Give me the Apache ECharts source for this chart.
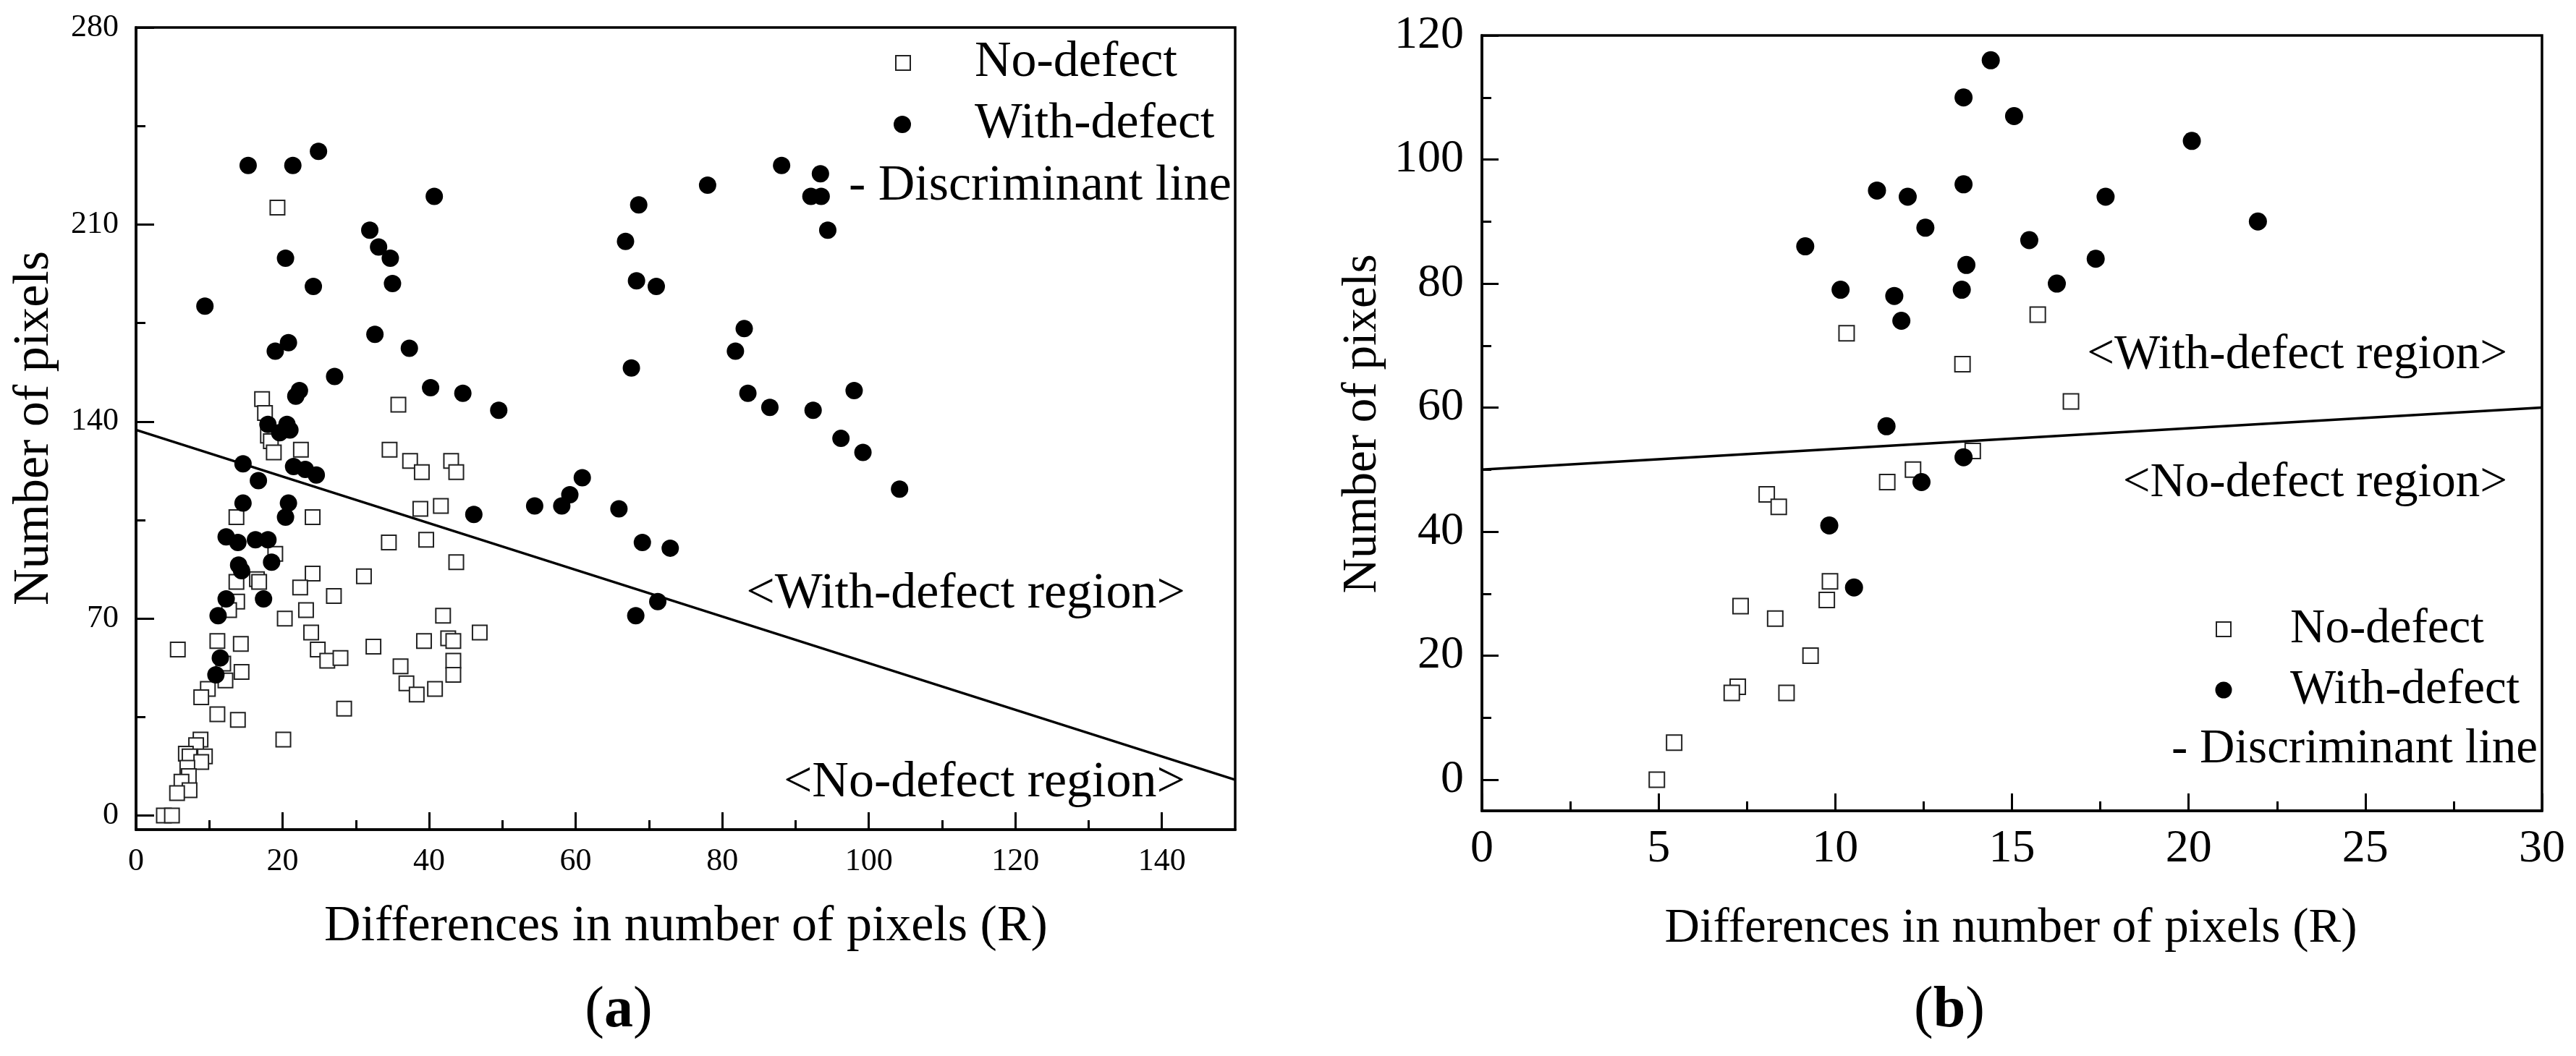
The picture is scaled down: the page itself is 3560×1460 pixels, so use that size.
<!DOCTYPE html>
<html>
<head>
<meta charset="utf-8">
<script src="https://cdn.jsdelivr.net/npm/echarts@6/dist/echarts.min.js"></script>
<style>html,body{margin:0;padding:0;background:#fff;font-family:"Liberation Serif",serif}#c{width:3560px;height:1460px}</style>
</head>
<body>
<div id="c"></div>
<script>
// ---------- Panel (a) data ----------
const noDefectA = [[19.3,216],[17.2,148],[17.6,143],[18.0,135],[18.4,133],[18.8,129],[22.5,130],[35.8,146],[34.6,130],[37.4,126],[39.0,122],[43.0,126],[43.7,122],[38.8,109],[41.6,110],[13.7,106],[24.1,106],[34.5,97],[39.6,98],[43.7,90],[19.0,93],[24.1,86],[22.4,81],[31.1,85],[13.7,83],[16.5,84],[16.8,83],[27.0,78],[13.8,76],[12.7,73],[23.2,73],[20.3,70],[41.9,71],[5.7,59],[11.1,62],[14.3,61],[23.9,65],[46.9,65],[32.4,60],[39.3,62],[42.6,63],[43.3,62],[24.8,59],[26.1,55],[27.9,56],[36.1,53],[43.3,55],[43.3,50],[36.9,47],[38.3,43],[40.8,45],[12.2,48],[14.4,51],[11.9,54],[9.8,45],[8.9,42],[11.1,36],[13.9,34],[28.4,38],[20.1,27],[8.8,27],[8.2,25],[6.8,22],[7.3,21],[9.4,21],[8.9,19],[7.0,17],[7.2,14],[6.2,12],[7.3,9],[5.6,8],[3.8,0],[4.9,0]];
const withDefectA = [[31.9,208],[33.1,202],[34.7,198],[20.4,198],[24.2,188],[35.0,189],[9.4,181],[32.6,171],[20.8,168],[19.0,165],[37.3,166],[27.1,156],[40.2,152],[44.6,150],[22.3,151],[21.8,149],[49.5,144],[18.0,139],[20.6,139],[19.6,136],[21.0,137],[14.6,125],[16.7,119],[21.5,124],[23.1,123],[24.6,121],[14.6,111],[20.8,111],[20.4,106],[46.1,107],[12.3,99],[13.9,97],[16.3,98],[18.0,98],[14.0,89],[14.4,87],[18.5,90],[12.3,77],[17.4,77],[11.2,71],[11.5,56],[10.9,50],[15.3,231],[21.4,231],[24.9,236],[40.7,220],[68.6,217],[66.8,204],[68.3,190],[67.6,159],[88.1,231],[93.4,228],[92.1,220],[93.5,220],[78.0,224],[94.4,208],[71.0,188],[83.0,173],[81.8,165],[83.5,150],[86.5,145],[92.4,144],[98.0,151],[96.2,134],[99.2,129],[104.2,116],[72.9,95],[71.2,76],[54.4,110],[58.1,110],[59.2,114],[60.9,120],[65.9,109],[69.1,97],[68.2,71]];
const lineA = [[0,137],[150,12.7]];
const xTicksA = [0,20,40,60,80,100,120,140];
const xMinorA = [10,30,50,70,90,110,130];
const yTicksA = [0,70,140,210,280];
const yMinorA = [35,105,175,245];

// ---------- Panel (b) data ----------
const noDefectB = [[10.32,72],[15.73,75],[13.6,67],[16.67,61],[13.89,53],[12.2,50],[11.47,48],[8.06,46],[8.4,44],[9.85,32],[9.76,29],[7.32,28],[8.3,26],[9.3,20],[7.24,15],[7.07,14],[8.62,14],[5.44,6],[4.95,0]];
const withDefectB = [[14.4,116],[13.63,110],[15.06,107],[20.09,103],[11.18,95],[12.05,94],[13.63,96],[17.65,94],[21.96,90],[12.55,89],[15.49,87],[9.15,86],[13.71,83],[17.37,84],[16.27,80],[10.15,79],[11.67,78],[13.58,79],[11.87,74],[11.45,57],[13.63,52],[12.44,48],[9.83,41],[10.53,31]];
const lineB = [[0,50],[30,60]];
const xTicksB = [0,5,10,15,20,25,30];
const xMinorB = [2.5,7.5,12.5,17.5,22.5,27.5];
const yTicksB = [0,20,40,60,80,100,120];
const yMinorB = [10,30,50,70,90,110];

// ---------- Texts ----------
const labelsA = {title:'Differences in number of pixels (R)', ytitle:'Number of pixels', tag:'a',
  legend:['No-defect','With-defect','- Discriminant line'], regions:['<With-defect region>','<No-defect region>']};
const labelsB = {title:'Differences in number of pixels (R)', ytitle:'Number of pixels', tag:'b',
  legend:['No-defect','With-defect','- Discriminant line'], regions:['<With-defect region>','<No-defect region>']};

const FONT = 'Liberation Serif';

function lbl(fs, margin){
  return {show:true, margin:margin, color:'#000', fontFamily:FONT, fontSize:fs,
    textStyle:{fontFamily:FONT, fontSize:fs, color:'#000'}};
}
function majorX(grid, min, max, ticks, fs, margin){
  const l = lbl(fs, margin); l.customValues = ticks;
  return {type:'value', gridIndex:grid, min:min, max:max, position:'bottom',
    axisLine:{show:true, onZero:false, lineStyle:{color:'#000', width:3.5}},
    axisTick:{show:true, inside:true, length:24, customValues:ticks, lineStyle:{color:'#000', width:3}},
    axisLabel:l, splitLine:{show:false}};
}
function minorX(grid, min, max, ticks){
  return {type:'value', gridIndex:grid, min:min, max:max, position:'bottom',
    axisLine:{show:false, onZero:false},
    axisTick:{show:true, inside:true, length:13, customValues:ticks, lineStyle:{color:'#000', width:3}},
    axisLabel:{show:false}, splitLine:{show:false}};
}
function majorY(grid, min, max, ticks, fs, margin, len){
  const l = lbl(fs, margin); l.customValues = ticks;
  return {type:'value', gridIndex:grid, min:min, max:max, position:'left',
    axisLine:{show:true, onZero:false, lineStyle:{color:'#000', width:3.5}},
    axisTick:{show:true, inside:true, length:len, customValues:ticks, lineStyle:{color:'#000', width:3}},
    axisLabel:l, splitLine:{show:false}};
}
function minorY(grid, min, max, ticks){
  return {type:'value', gridIndex:grid, min:min, max:max, position:'left',
    axisLine:{show:false, onZero:false},
    axisTick:{show:true, inside:true, length:13, customValues:ticks, lineStyle:{color:'#000', width:3}},
    axisLabel:{show:false}, splitLine:{show:false}};
}

function txt(x, y, s, fs, align, extra){
  const o = {type:'text', x:x, y:y, silent:true, z:10,
    style:{text:s, x:0, y:0, fill:'#000', font: fs+'px "'+FONT+'"',
      textAlign:align, textVerticalAlign:'middle', align:align, verticalAlign:'middle'}};
  if (extra) Object.assign(o, extra);
  return o;
}
function sq(cx, cy, s){
  return {type:'rect', silent:true, z:10, shape:{x:cx-s/2, y:cy-s/2, width:s, height:s},
    style:{fill:'#fff', stroke:'#222', lineWidth:2}};
}
function dot(cx, cy, r){
  return {type:'circle', silent:true, z:10, shape:{cx:cx, cy:cy, r:r}, style:{fill:'#000'}};
}
function tag(x, y, letter, fs){
  return {type:'text', x:x, y:y, silent:true, z:10,
    style:{text:'({b|'+letter+'})', x:0, y:0, fill:'#000', font: fs+'px "'+FONT+'"',
      textAlign:'center', textVerticalAlign:'middle', align:'center', verticalAlign:'middle',
      rich:{b:{fontWeight:'bold', fontSize:fs, fontFamily:FONT, fill:'#000'}}}};
}

const chart = echarts.init(document.getElementById('c'), null, {renderer:'canvas'});
chart.setOption({
  backgroundColor:'#fff',
  animation:false,
  textStyle:{fontFamily:FONT, color:'#000'},
  grid:[
    {left:188, top:38, width:1519, height:1109, show:true, borderColor:'#000', borderWidth:3.5, backgroundColor:'transparent', containLabel:false, outerBoundsMode:'none'},
    {left:2048, top:49, width:1465, height:1072, show:true, borderColor:'#000', borderWidth:3.5, backgroundColor:'transparent', containLabel:false, outerBoundsMode:'none'}
  ],
  xAxis:[
    majorX(0, 0, 150, xTicksA, 44, 22),
    minorX(0, 0, 150, xMinorA),
    majorX(1, 0, 30, xTicksB, 64, 21),
    minorX(1, 0, 30, xMinorB)
  ],
  yAxis:[
    majorY(0, -5, 280, yTicksA, 44, 24, 25),
    minorY(0, -5, 280, yMinorA),
    majorY(1, -5, 120, yTicksB, 64, 25, 23),
    minorY(1, -5, 120, yMinorB)
  ],
  series:[
    {name:'No-defect', type:'scatter', xAxisIndex:0, yAxisIndex:0, data:noDefectA, symbol:'rect', symbolSize:20,
      itemStyle:{color:'#fff', borderColor:'#222', borderWidth:2, opacity:1}, z:2},
    {name:'With-defect', type:'scatter', xAxisIndex:0, yAxisIndex:0, data:withDefectA, symbol:'circle', symbolSize:24,
      itemStyle:{color:'#000', opacity:1}, z:3},
    {name:'Discriminant line', type:'line', xAxisIndex:0, yAxisIndex:0, data:lineA, showSymbol:false, symbol:'none',
      lineStyle:{color:'#000', width:3.5}, z:4},
    {name:'No-defect', type:'scatter', xAxisIndex:2, yAxisIndex:2, data:noDefectB, symbol:'rect', symbolSize:21,
      itemStyle:{color:'#fff', borderColor:'#222', borderWidth:2, opacity:1}, z:2},
    {name:'With-defect', type:'scatter', xAxisIndex:2, yAxisIndex:2, data:withDefectB, symbol:'circle', symbolSize:25,
      itemStyle:{color:'#000', opacity:1}, z:3},
    {name:'Discriminant line', type:'line', xAxisIndex:2, yAxisIndex:2, data:lineB, showSymbol:false, symbol:'none',
      lineStyle:{color:'#000', width:3.5}, z:4}
  ],
  graphic:{elements:[
    // panel a
    txt(48, 592, labelsA.ytitle, 70, 'center', {rotation:Math.PI/2}),
    txt(948, 1282, labelsA.title, 70, 'center'),
    tag(855, 1398, labelsA.tag, 80),
    sq(1248, 87, 20),
    dot(1247, 172, 12),
    txt(1347, 87, labelsA.legend[0], 70, 'left'),
    txt(1347, 172, labelsA.legend[1], 70, 'left'),
    txt(1173, 258, labelsA.legend[2], 70, 'left'),
    txt(1638, 822, labelsA.regions[0], 70, 'right'),
    txt(1638, 1083, labelsA.regions[1], 70, 'right'),
    // panel b
    txt(1883, 586, labelsB.ytitle, 67, 'center', {rotation:Math.PI/2}),
    txt(2779, 1284, labelsB.title, 67, 'center'),
    tag(2694, 1398, labelsB.tag, 80),
    txt(3465, 491, labelsB.regions[0], 67, 'right'),
    txt(3465, 668, labelsB.regions[1], 67, 'right'),
    sq(3073, 870, 20),
    dot(3073, 954, 11.5),
    txt(3165, 870, labelsB.legend[0], 67, 'left'),
    txt(3165, 954, labelsB.legend[1], 67, 'left'),
    txt(3001, 1036, labelsB.legend[2], 67, 'left')
  ]}
});
</script>
</body>
</html>
